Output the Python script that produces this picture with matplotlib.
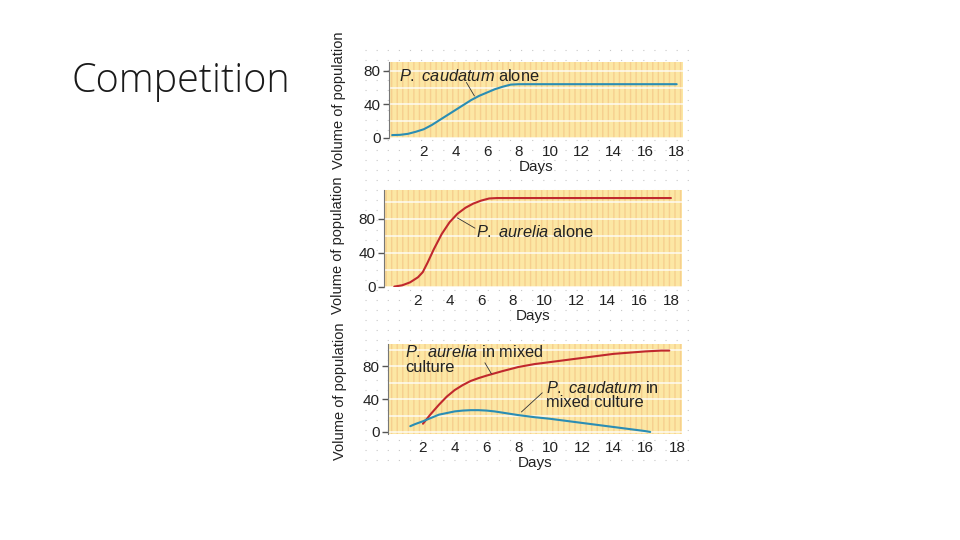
import numpy as np
import matplotlib
matplotlib.use("Agg")
import matplotlib.pyplot as plt

plt.rcParams["font.family"] = ["Liberation Sans", "DejaVu Sans"]
plt.rcParams["mathtext.fontset"] = "custom"
plt.rcParams["mathtext.rm"] = "Liberation Sans"
plt.rcParams["mathtext.it"] = "Liberation Sans:italic"

# data (days, volume of population)
caud_alone_days = [0, 0.5, 1, 1.5, 2, 2.5, 3, 3.5, 4, 4.5, 5, 5.5, 6, 6.5, 7, 7.5, 8, 10, 12, 14, 16, 18]
caud_alone_vol = [3, 3.3, 4.5, 7, 10, 15, 21, 27, 33, 39, 45, 50, 54, 58, 61, 63.5, 64, 64, 64, 64, 64, 64]

aur_alone_days = [0.5, 1, 1.5, 2, 2.3, 2.6, 3, 3.5, 4, 4.5, 5, 5.5, 6, 6.5, 7, 10, 14, 18]
aur_alone_vol = [0, 1.5, 5, 11, 17, 28, 44, 62, 76, 86, 93, 98, 101.5, 104, 104.5, 104.5, 104.5, 104.5]

aur_mixed_days = [2, 2.5, 3, 3.5, 4, 4.5, 5, 5.5, 6, 7, 8, 9, 10, 11, 12, 13, 14, 15, 16, 17, 17.5]
aur_mixed_vol = [10, 22, 33, 43, 51, 57, 62, 65.5, 68.5, 74, 79, 82.5, 85, 87.5, 90, 92.5, 95, 96.5, 98, 99, 99]

caud_mixed_days = [1.2, 1.5, 2, 2.5, 3, 3.5, 4, 4.5, 5, 5.5, 6, 6.5, 7, 8, 9, 10, 11, 12, 13, 14, 15, 16, 16.3]
caud_mixed_vol = [7, 9.5, 13, 17, 21, 23, 25, 26, 26.5, 26.5, 26, 25, 23.5, 20.5, 18, 16, 13.5, 11, 8.5, 6, 3.5, 1, 0]

x_ticks = [2, 4, 6, 8, 10, 12, 14, 16, 18]
y_ticks = [0, 40, 80]

BLUE = "#2a8db4"
RED = "#c0282d"
TXT = "#222222"
LEADER = "#333333"

fig = plt.figure(figsize=(9.6, 5.4), dpi=100)
fig.patch.set_facecolor("white")

fig.text(72 / 960, 1 - 82 / 540, "Competition", fontsize=28.5, family="Open Sans",
         fontweight="light", color="#1a1a1a", va="center", ha="left")

# dotted backdrop behind the panels
bg = fig.add_axes([365 / 960, 1 - 465 / 540, 325 / 960, 425 / 540])
bg.set_xlim(0, 325)
bg.set_ylim(0, 425)
bg.axis("off")
for yy in np.arange(5, 425, 10):
    bg.plot([0, 325], [yy, yy], color="#c8c8c8", lw=0.8, ls=(0, (1, 9)))


def style(ax, ylim, xlim):
    ax.set_xlim(*xlim)
    ax.set_ylim(*ylim)
    ax.set_facecolor("#fce7a4")
    # vertical stripe texture
    ax.add_patch(plt.Rectangle((0, 0), 1, 1, transform=ax.transAxes, facecolor="none",
                               edgecolor="#f6cf8e", hatch="|||", lw=0, zorder=0))
    ax.set_yticks(y_ticks)
    ax.set_yticks(np.arange(20, ylim[1], 40), minor=True)
    ax.grid(axis="y", which="both", color="white", lw=1.2, alpha=0.8)
    ax.set_axisbelow(True)
    ax.set_xticks(x_ticks)
    ax.tick_params(axis="x", length=0, pad=5, labelsize=11, colors=TXT)
    ax.tick_params(axis="y", which="major", length=4, width=1, color="#555555",
                   pad=2, labelsize=11, colors=TXT)
    ax.tick_params(axis="y", which="minor", length=0)
    for s in ["top", "right", "bottom"]:
        ax.spines[s].set_visible(False)
    ax.spines["left"].set_color("#777777")
    ax.set_xlabel("Days", fontsize=11, color=TXT, labelpad=1)
    ax.set_ylabel("Volume of population", fontsize=10.5, color=TXT)


def curve(ax, x, y, c):
    ax.plot(x, y, color=c, lw=1.5, solid_joinstyle="round", solid_capstyle="round")


ax1 = fig.add_axes([389 / 960, 1 - 138 / 540, 294 / 960, 76 / 540])
style(ax1, (-0.5, 90.6), (-0.2, 18.4))
curve(ax1, caud_alone_days, caud_alone_vol, BLUE)
ax1.text(0.45, 74, r"$\it{P.}$ $\it{caudatum}$ alone", fontsize=11.8, color=TXT, va="center")
ax1.plot([4.7, 5.2], [66, 50], color=LEADER, lw=0.6)
ax1.yaxis.set_label_coords(-0.145, 0.5)

ax2 = fig.add_axes([384 / 960, 1 - 287 / 540, 298 / 960, 97 / 540])
style(ax2, (-0.5, 114), (-0.15, 18.7))
curve(ax2, aur_alone_days, aur_alone_vol, RED)
ax2.text(5.7, 65, r"$\it{P.}$ $\it{aurelia}$ alone", fontsize=11.8, color=TXT, va="center")
ax2.plot([4.5, 5.6], [81, 69], color=LEADER, lw=0.6)
ax2.yaxis.set_label_coords(-0.13, 0.43)

ax3 = fig.add_axes([388 / 960, 1 - 434 / 540, 294 / 960, 90 / 540])
style(ax3, (-2.5, 107), (-0.2, 18.3))
curve(ax3, aur_mixed_days, aur_mixed_vol, RED)
curve(ax3, caud_mixed_days, caud_mixed_vol, BLUE)
ax3.text(0.9, 88, r"$\it{P.}$ $\it{aurelia}$ in mixed" + "\nculture", fontsize=11.8,
         color=TXT, va="center", linespacing=1.0)
ax3.plot([5.9, 6.3], [84, 71], color=LEADER, lw=0.6)
ax3.text(9.75, 45, r"$\it{P.}$ $\it{caudatum}$ in" + "\nmixed culture", fontsize=11.8,
         color=TXT, va="center", linespacing=0.95)
ax3.plot([9.5, 8.2], [47.5, 24.4], color=LEADER, lw=0.6)
ax3.yaxis.set_label_coords(-0.14, 0.47)

fig.savefig("out.png", dpi=100, facecolor="white")
